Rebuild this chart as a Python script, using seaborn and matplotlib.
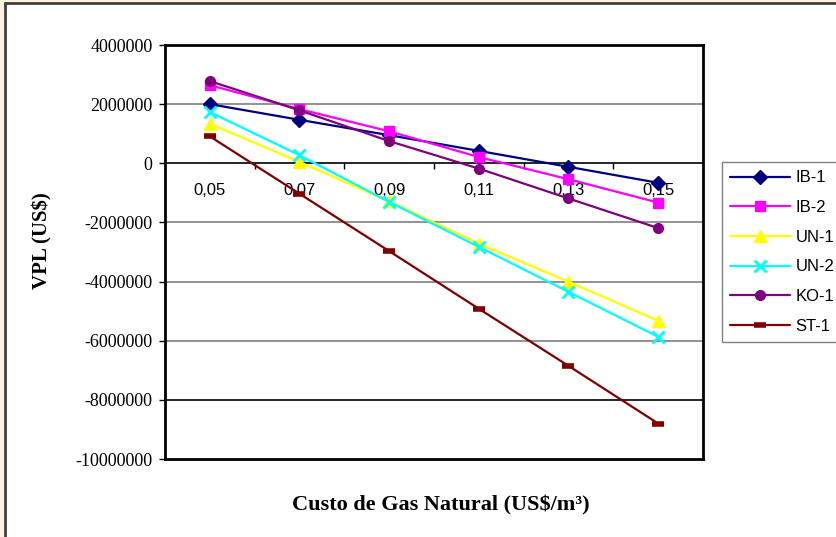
import matplotlib
matplotlib.use("Agg")
import matplotlib.pyplot as plt
import matplotlib.patches as mpatches
import seaborn as sns
import pandas as pd

categories = ["0,05", "0,07", "0,09", "0,11", "0,13", "0,15"]
series_names = ["IB-1", "IB-2", "UN-1", "UN-2", "KO-1", "ST-1"]
ib1 = [2000000, 1470000, 950000, 420000, -120000, -660000]
ib2 = [2640000, 1830000, 1080000, 210000, -540000, -1330000]
un1 = [1340000, 40000, -1290000, -2720000, -4010000, -5330000]
un2 = [1730000, 270000, -1310000, -2830000, -4350000, -5870000]
ko1 = [2780000, 1790000, 750000, -180000, -1190000, -2190000]
st1 = [910000, -1030000, -2970000, -4920000, -6850000, -8800000]
y_ticks = [4000000, 2000000, 0, -2000000, -4000000, -6000000, -8000000, -10000000]

values = [ib1, ib2, un1, un2, ko1, st1]
colors = ["#000080", "#FF00FF", "#FFFF00", "#00FFFF", "#800080", "#800000"]
markers = ["D", "s", "^", "x", "o", "_"]
msizes = [7, 7, 8, 8, 7, 8]
mews = [1, 1, 1, 2, 1, 4]

rows = []
for name, vals in zip(series_names, values):
    for i, v in enumerate(vals):
        rows.append({"serie": name, "idx": i, "vpl": v})
df = pd.DataFrame(rows)

sns.set_style("white")
plt.rcParams["font.family"] = ["Liberation Sans", "DejaVu Sans"]
plt.rcParams["text.color"] = "black"
plt.rcParams["xtick.color"] = "black"
plt.rcParams["ytick.color"] = "black"
plt.rcParams["axes.labelcolor"] = "black"

fig = plt.figure(figsize=(8.36, 5.37), dpi=100, facecolor="#FDF3E3")
bg = fig.add_axes([0, 0, 1, 1], zorder=-10)
bg.set_axis_off()
bg.set_xlim(0, 1)
bg.set_ylim(0, 1)
bg.add_patch(mpatches.Rectangle((5 / 836, -0.1), 1.2, (537 - 3) / 537 + 0.1,
                                facecolor="white", edgecolor="#404040", linewidth=2))

ax = fig.add_axes([165 / 836, (537 - 459) / 537, 538 / 836, 414 / 537])
ax.set_facecolor("white")

for name, c, m, ms, mew in zip(series_names, colors, markers, msizes, mews):
    sub = df[df["serie"] == name]
    sns.lineplot(data=sub, x="idx", y="vpl", ax=ax, color=c, marker=m,
                 markersize=ms, markeredgewidth=mew, markeredgecolor=c,
                 markerfacecolor=c, linewidth=1.6, label=name, zorder=3)

ymin, ymax = -10000000, 4000000
ax.set_ylim(ymin, ymax)
ax.set_xlim(-0.5, len(categories) - 0.5)
ax.set_yticks(y_ticks)
ax.set_yticklabels([str(t) for t in y_ticks], fontfamily="Liberation Serif", fontsize=13)
ax.tick_params(axis="y", direction="out", length=4, width=1, color="black", pad=5, left=True)
ax.set_xticks([])
for t in y_ticks:
    if t in (ymin, ymax, 0):
        continue
    ax.axhline(t, color="#000000" if t == -8000000 else "#808080", linewidth=1.2, zorder=1)

for s in ax.spines.values():
    s.set_color("black")
    s.set_linewidth(2)

# category axis crossing at zero
sec = ax.secondary_xaxis((0 - ymin) / (ymax - ymin))
sec.xaxis.set_ticks_position("bottom")
sec.xaxis.set_label_position("bottom")
sec.set_xticks(range(len(categories)))
sec.set_xticklabels(categories, fontsize=12)
sec.set_xticks([i + 0.5 for i in range(len(categories) - 1)], minor=True)
sec.tick_params(axis="x", which="both", bottom=True, top=False, labelbottom=True, labeltop=False)
sec.tick_params(axis="x", which="major", length=0, pad=14)
sec.tick_params(axis="x", which="minor", length=4, direction="out", width=1)
for side in ("top", "bottom"):
    sec.spines[side].set_linewidth(1.2)
    sec.spines[side].set_color("black")

ax.set_xlabel("")
ax.set_ylabel("")
fig.text(42 / 836, 1 - 241 / 537, "VPL (US$)", rotation=90, ha="center", va="center",
         fontfamily="Liberation Serif", fontweight="bold", fontsize=15)
fig.text(441 / 836, 1 - 505 / 537, "Custo de Gas Natural (US$/m³)", ha="center", va="center",
         fontfamily="Liberation Serif", fontweight="bold", fontsize=16)

leg = ax.legend(loc="upper left", bbox_to_anchor=(722 / 836, 1 - 162 / 537),
                bbox_transform=fig.transFigure, fontsize=12, frameon=True, fancybox=False,
                handlelength=3.6, labelspacing=0.88, borderpad=0.5, handletextpad=0.3,
                borderaxespad=0)
leg.get_frame().set_edgecolor("#606060")
leg.get_frame().set_linewidth(1)

fig.savefig("out.png", dpi=100, facecolor=fig.get_facecolor())
